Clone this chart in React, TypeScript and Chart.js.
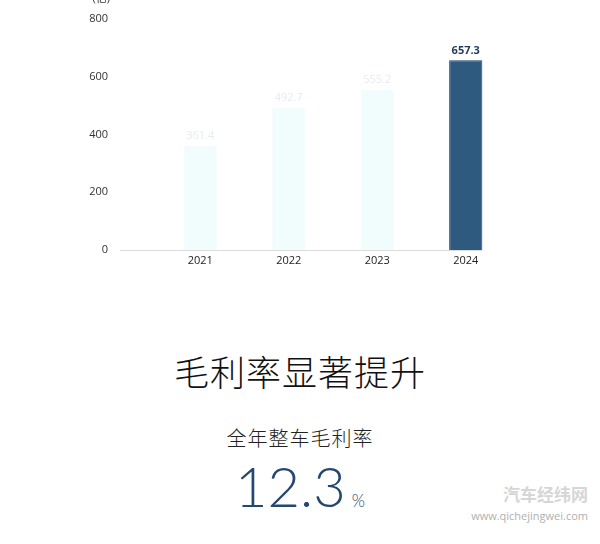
import React, { useEffect, useRef } from "react";
import { Chart, registerables } from "chart.js";

Chart.register(...registerables);

const categories = ["2021", "2022", "2023", "2024"];
const revenue = [361.4, 492.7, 555.2, 657.3];
const yTicks = [0, 200, 400, 600, 800];
const unitLabel = "(亿)";
const title = "毛利率显著提升";
const subtitle = "全年整车毛利率";
const rateValue = "12.3";
const rateUnit = "%";

const lightBar = "#f1fcfd";
const darkBar = "#2f5a80";
const darkBorder = "#1e4266";

const CANVAS_W = 584;
const CANVAS_H = 300;

export default function App() {
  const ref = useRef<HTMLCanvasElement | null>(null);

  useEffect(() => {
    if (!ref.current) return;
    const last = revenue.length - 1;
    const plugin = {
      id: "custom",
      beforeDatasetsDraw(chart: any) {
        const ctx = chart.ctx;
        const y0 = chart.scales.y.getPixelForValue(0);
        const meta = chart.getDatasetMeta(0);
        const lastBar = meta.data[last];
        ctx.save();
        ctx.strokeStyle = "#dcdcdc";
        ctx.lineWidth = 1;
        ctx.beginPath();
        ctx.moveTo(chart.chartArea.left - 36, Math.round(y0) + 0.5);
        ctx.lineTo(lastBar.x + lastBar.width / 2, Math.round(y0) + 0.5);
        ctx.stroke();
        ctx.restore();
      },
      afterDatasetsDraw(chart: any) {
        const ctx = chart.ctx;
        const meta = chart.getDatasetMeta(0);
        ctx.save();
        ctx.textAlign = "center";
        ctx.textBaseline = "bottom";
        meta.data.forEach((bar: any, i: number) => {
          const isLast = i === last;
          ctx.font = (isLast ? "bold " : "") + "11px 'Open Sans', sans-serif";
          ctx.fillStyle = isLast ? "#1d3a58" : "#e6ebee";
          ctx.fillText(String(revenue[i]), bar.x, bar.y - 4);
        });
        const ys = chart.scales.y;
        ctx.textAlign = "right";
        ctx.textBaseline = "middle";
        ctx.font = "11px 'Open Sans', 'Noto Sans CJK SC', sans-serif";
        ctx.fillStyle = "#333";
        ctx.fillText(unitLabel, ys.right - 46, chart.chartArea.top - 20);
        ctx.restore();
      },
    };

    const chart = new Chart(ref.current, {
      type: "bar",
      data: {
        labels: categories,
        datasets: [
          {
            data: revenue,
            backgroundColor: revenue.map((_, i) => (i === last ? darkBar : lightBar)),
            borderColor: revenue.map((_, i) => (i === last ? darkBorder : lightBar)),
            borderWidth: 1,
            categoryPercentage: 1,
            barPercentage: 0.375,
          },
        ],
      },
      options: {
        responsive: false,
        animation: false,
        events: [],
        layout: { padding: { top: 0, right: 82, left: 0, bottom: 0 } },
        plugins: { legend: { display: false }, tooltip: { enabled: false } },
        scales: {
          x: {
            grid: { display: false, drawTicks: false },
            border: { display: false },
            ticks: {
              padding: 4,
              color: "#222",
              font: { size: 11, family: "'Open Sans', sans-serif" },
            },
            afterFit(scale: any) {
              scale.height = 39;
            },
          },
          y: {
            min: 0,
            max: 800,
            afterBuildTicks(scale: any) {
              scale.ticks = yTicks.map((v) => ({ value: v }));
            },
            grid: { display: false, drawTicks: false },
            border: { display: false },
            ticks: {
              padding: 48,
              color: "#333",
              font: { size: 11, family: "'Open Sans', sans-serif" },
            },
            afterFit(scale: any) {
              scale.width = 148;
              scale.paddingTop = 30;
              scale.paddingBottom = 0;
            },
          },
        },
      },
      plugins: [plugin],
    });
    return () => chart.destroy();
  }, []);

  return (
    <div style={{ position: "fixed", left: 0, top: 0, width: 600, height: 544, overflow: "hidden", background: "#fff" }}>
      <canvas
        ref={ref}
        width={CANVAS_W}
        height={CANVAS_H}
        style={{ position: "absolute", left: 8, top: -11, width: CANVAS_W, height: CANVAS_H }}
      />
      <div
        style={{
          position: "absolute",
          left: 0,
          width: 600,
          top: 353,
          textAlign: "center",
          fontFamily: "'Noto Sans CJK SC', sans-serif",
          fontSize: 35,
          lineHeight: "36px",
          color: "#111",
          letterSpacing: 1,
          fontWeight: 300,
        }}
      >
        {title}
      </div>
      <div
        style={{
          position: "absolute",
          left: 0,
          width: 600,
          top: 427,
          textAlign: "center",
          fontFamily: "'Noto Sans CJK SC', sans-serif",
          fontSize: 20,
          lineHeight: "22px",
          color: "#222",
          letterSpacing: 1,
          fontWeight: 300,
        }}
      >
        {subtitle}
      </div>
      <div
        style={{
          position: "absolute",
          left: 0,
          width: 600,
          top: 451,
          textAlign: "center",
          color: "#26486f",
          fontFamily: "Lato, 'Open Sans', sans-serif",
          fontWeight: 300,
          lineHeight: "70px",
          whiteSpace: "nowrap",
        }}
      >
        <span style={{ fontSize: 56 }}>{rateValue}</span>
        <span style={{ fontSize: 17, marginLeft: 6 }}>{rateUnit}</span>
      </div>
      <div
        style={{
          position: "absolute",
          right: 12,
          top: 484,
          fontFamily: "'Noto Sans CJK SC', sans-serif",
          fontSize: 17,
          lineHeight: "20px",
          color: "#d6d6d6",
          fontWeight: 700,
          textAlign: "right",
        }}
      >
        汽车经纬网
      </div>
      <div
        style={{
          position: "absolute",
          right: 12,
          top: 509,
          fontFamily: "'Open Sans', sans-serif",
          fontSize: 11,
          lineHeight: "14px",
          color: "#b0b0b0",
          textAlign: "right",
        }}
      >
        www.qichejingwei.com
      </div>
    </div>
  );
}
